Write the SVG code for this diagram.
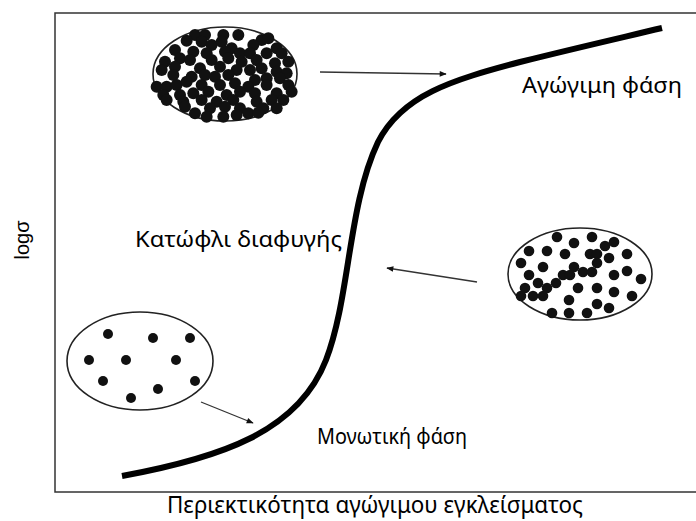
<svg xmlns="http://www.w3.org/2000/svg" width="696" height="521" viewBox="0 0 696 521">
<style>
.lbl{font-family:"Noto Sans","Open Sans","DejaVu Sans",sans-serif;fill:#000;}
.ell{fill:#fff;stroke:#222;stroke-width:1.6;}
.dot{fill:#111;}
.arr{stroke:#333;stroke-width:1.3;fill:none;marker-end:url(#ah);}
</style>
<defs>
<marker id="ah" viewBox="0 0 10 10" refX="9" refY="5" markerWidth="10" markerHeight="7" markerUnits="userSpaceOnUse" orient="auto">
<path d="M0,1 L10,5 L0,9 z" fill="#111"/>
</marker>
</defs>
<rect x="0" y="0" width="696" height="521" fill="#fff"/>
<rect id="frame" x="55" y="13" width="645" height="479" fill="none" stroke="#333" stroke-width="1.5"/>

<g id="curve">
<path d="M122,476 C220,458 298,432 326,360 C350,298 348,205 378,142 C402,95 452,80 520,62 C580,47 620,38 662,28" fill="none" stroke="#000" stroke-width="6" stroke-linecap="butt"/>
</g>

<g id="conductive-ellipse">
<ellipse class="ell" cx="225" cy="74" rx="72" ry="47"/>
<g class="dot" transform="translate(140,20) scale(0.3333)">
<circle cx="165" cy="45" r="18"/><circle cx="195" cy="45" r="18"/><circle cx="250" cy="45" r="18"/><circle cx="295" cy="45" r="18"/><circle cx="365" cy="60" r="18"/><circle cx="385" cy="55" r="18"/>
<circle cx="140" cy="62" r="18"/><circle cx="185" cy="65" r="18"/><circle cx="215" cy="75" r="18"/><circle cx="245" cy="65" r="18"/><circle cx="275" cy="85" r="18"/><circle cx="340" cy="75" r="18"/><circle cx="410" cy="85" r="18"/>
<circle cx="105" cy="90" r="18"/><circle cx="160" cy="95" r="18"/><circle cx="200" cy="100" r="18"/><circle cx="255" cy="95" r="18"/><circle cx="300" cy="100" r="18"/><circle cx="330" cy="100" r="18"/><circle cx="380" cy="100" r="18"/><circle cx="425" cy="100" r="18"/>
<circle cx="75" cy="125" r="18"/><circle cx="120" cy="115" r="18"/><circle cx="150" cy="120" r="18"/><circle cx="215" cy="120" r="18"/><circle cx="265" cy="115" r="18"/><circle cx="305" cy="125" r="18"/><circle cx="350" cy="120" r="18"/><circle cx="405" cy="130" r="18"/><circle cx="445" cy="125" r="18"/>
<circle cx="65" cy="150" r="18"/><circle cx="105" cy="140" r="18"/><circle cx="180" cy="145" r="18"/><circle cx="240" cy="140" r="18"/><circle cx="290" cy="150" r="18"/><circle cx="330" cy="150" r="18"/><circle cx="365" cy="145" r="18"/><circle cx="410" cy="155" r="18"/><circle cx="440" cy="160" r="18"/>
<circle cx="100" cy="165" r="18"/><circle cx="155" cy="170" r="18"/><circle cx="195" cy="165" r="18"/><circle cx="225" cy="170" r="18"/><circle cx="265" cy="165" r="18"/><circle cx="345" cy="180" r="18"/><circle cx="380" cy="175" r="18"/><circle cx="420" cy="175" r="18"/>
<circle cx="50" cy="200" r="18"/><circle cx="80" cy="200" r="18"/><circle cx="110" cy="195" r="18"/><circle cx="140" cy="185" r="18"/><circle cx="185" cy="195" r="18"/><circle cx="240" cy="195" r="18"/><circle cx="285" cy="190" r="18"/><circle cx="325" cy="200" r="18"/><circle cx="380" cy="195" r="18"/><circle cx="445" cy="195" r="18"/>
<circle cx="70" cy="225" r="18"/><circle cx="120" cy="225" r="18"/><circle cx="160" cy="220" r="18"/><circle cx="205" cy="215" r="18"/><circle cx="260" cy="225" r="18"/><circle cx="300" cy="215" r="18"/><circle cx="345" cy="220" r="18"/><circle cx="410" cy="220" r="18"/><circle cx="455" cy="215" r="18"/>
<circle cx="80" cy="240" r="18"/><circle cx="130" cy="245" r="18"/><circle cx="185" cy="240" r="18"/><circle cx="230" cy="245" r="18"/><circle cx="280" cy="240" r="18"/><circle cx="350" cy="245" r="18"/><circle cx="395" cy="240" r="18"/><circle cx="430" cy="240" r="18"/>
<circle cx="135" cy="260" r="18"/><circle cx="210" cy="265" r="18"/><circle cx="255" cy="260" r="18"/><circle cx="300" cy="265" r="18"/><circle cx="370" cy="265" r="18"/><circle cx="410" cy="265" r="18"/>
<circle cx="165" cy="280" r="18"/><circle cx="200" cy="290" r="18"/><circle cx="250" cy="290" r="18"/><circle cx="290" cy="285" r="18"/><circle cx="325" cy="280" r="18"/><circle cx="355" cy="278" r="18"/>
</g>
</g>

<g id="threshold-ellipse">
<ellipse class="ell" cx="580" cy="274" rx="72" ry="46"/>
<g class="dot">
<circle cx="557" cy="237" r="5.3"/><circle cx="592" cy="237" r="5.3"/><circle cx="574" cy="243" r="5.3"/><circle cx="605" cy="246" r="5.3"/><circle cx="614" cy="242" r="5.3"/>
<circle cx="529" cy="251" r="5.3"/><circle cx="547" cy="251" r="5.3"/><circle cx="565" cy="254" r="5.3"/><circle cx="590" cy="254" r="5.3"/><circle cx="597" cy="254" r="5.3"/><circle cx="627" cy="254" r="5.3"/><circle cx="609" cy="258" r="5.3"/>
<circle cx="521" cy="263" r="5.3"/><circle cx="543" cy="267" r="5.3"/><circle cx="574" cy="267" r="5.3"/><circle cx="597" cy="263" r="5.3"/><circle cx="583" cy="272" r="5.3"/><circle cx="592" cy="272" r="5.3"/>
<circle cx="563" cy="275" r="5.3"/><circle cx="570" cy="275" r="5.3"/><circle cx="529" cy="275" r="5.3"/><circle cx="614" cy="275" r="5.3"/><circle cx="627" cy="271" r="5.3"/><circle cx="641" cy="279" r="5.3"/>
<circle cx="538" cy="283" r="5.3"/><circle cx="556" cy="283" r="5.3"/><circle cx="547" cy="288" r="5.3"/><circle cx="525" cy="288" r="5.3"/><circle cx="578" cy="288" r="5.3"/><circle cx="597" cy="288" r="5.3"/><circle cx="614" cy="292" r="5.3"/>
<circle cx="521" cy="296" r="5.3"/><circle cx="533" cy="296" r="5.3"/><circle cx="543" cy="296" r="5.3"/><circle cx="569" cy="300" r="5.3"/><circle cx="632" cy="296" r="5.3"/>
<circle cx="597" cy="304" r="5.3"/><circle cx="609" cy="308" r="5.3"/><circle cx="552" cy="313" r="5.3"/><circle cx="569" cy="313" r="5.3"/><circle cx="587" cy="313" r="5.3"/>
</g>
</g>

<g id="insulating-ellipse">
<ellipse class="ell" cx="140" cy="361" rx="73" ry="49"/>
<g class="dot">
<circle cx="108" cy="334" r="5"/><circle cx="153" cy="338" r="5"/><circle cx="190" cy="338" r="5"/><circle cx="89" cy="360" r="5"/><circle cx="126" cy="360" r="5"/><circle cx="176" cy="360" r="5"/><circle cx="103" cy="381" r="5"/><circle cx="195" cy="381" r="5"/><circle cx="158" cy="389" r="5"/><circle cx="131" cy="398" r="5"/>
</g>
</g>

<g id="connectors">
<line class="arr" x1="320" y1="72" x2="446" y2="74"/>
<line class="arr" x1="477" y1="282" x2="387" y2="268"/>
<line class="arr" x1="201" y1="402" x2="253" y2="423"/>
</g>

<g id="labels">
<text class="lbl" x="522" y="93" font-size="22" textLength="160" lengthAdjust="spacingAndGlyphs">Αγώγιμη φάση</text>
<text class="lbl" x="135" y="247" font-size="22" textLength="207" lengthAdjust="spacingAndGlyphs">Κατώφλι διαφυγής</text>
<text class="lbl" x="317" y="444" font-size="22" textLength="150" lengthAdjust="spacingAndGlyphs">Μονωτική φάση</text>
<text class="lbl" x="375" y="513" font-size="24" text-anchor="middle" textLength="416" lengthAdjust="spacingAndGlyphs">Περιεκτικότητα αγώγιμου εγκλείσματος</text>
<text x="0" y="0" font-family="'Liberation Sans',Arial,sans-serif" font-size="20" fill="#000" text-anchor="middle" transform="translate(29,240) rotate(-90)">logσ</text>
</g>
</svg>
